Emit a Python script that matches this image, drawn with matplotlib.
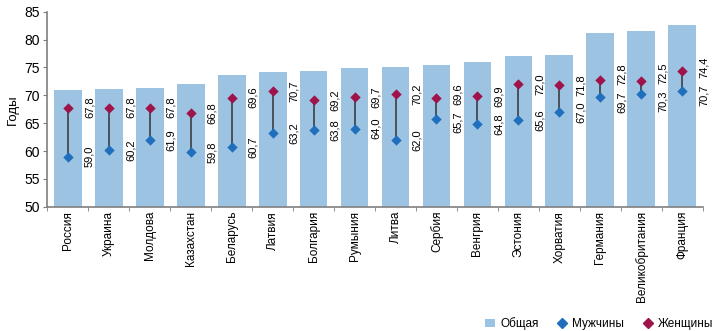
import numpy as np
import matplotlib
matplotlib.use("Agg")
import matplotlib.pyplot as plt
from matplotlib.lines import Line2D
from matplotlib.patches import Patch

countries = ["Россия", "Украина", "Молдова", "Казахстан", "Беларусь", "Латвия",
             "Болгария", "Румыния", "Литва", "Сербия", "Венгрия", "Эстония",
             "Хорватия", "Германия", "Великобритания", "Франция"]
total = [70.9, 71.1, 71.3, 72.0, 73.6, 74.1, 74.4, 74.9,
         75.1, 75.4, 75.9, 77.1, 77.2, 81.1, 81.5, 82.7]
men = [59.0, 60.2, 61.9, 59.8, 60.7, 63.2, 63.8, 64.0,
       62.0, 65.7, 64.8, 65.6, 67.0, 69.7, 70.3, 70.7]
women = [67.8, 67.8, 67.8, 66.8, 69.6, 70.7, 69.2, 69.7,
         70.2, 69.6, 69.9, 72.0, 71.8, 72.8, 72.5, 74.4]

bar_color = "#9dc3e3"
men_color = "#1f6fbd"
women_color = "#9e1349"
axis_color = "#7f7f7f"

plt.rcParams["font.family"] = ["Liberation Sans", "DejaVu Sans"]

fig = plt.figure(figsize=(7.15, 3.31), dpi=100)
ax = fig.add_axes([0.066, 0.3755, 0.917, 0.589])

x = np.arange(len(countries))
ax.bar(x, total, width=0.68, bottom=0, color=bar_color, zorder=1)
ax.vlines(x, men, women, color="#333333", lw=1.1, zorder=2)
ax.scatter(x, men, marker="D", s=28, color=men_color, zorder=3, linewidths=0)
ax.scatter(x, women, marker="D", s=28, color=women_color, zorder=3, linewidths=0)


def fmt(v):
    return f"{v:.1f}".replace(".", ",")


# value labels between bars, pushed apart when too close
min_sep = 5.0
for i in range(len(countries)):
    lo, hi = men[i], women[i]
    if hi - lo < min_sep:
        mid = (hi + lo) / 2
        lo, hi = mid - min_sep / 2, mid + min_sep / 2
    ax.text(i + 0.53, lo, fmt(men[i]), rotation=90, ha="center", va="center",
            fontsize=8, zorder=4)
    ax.text(i + 0.53, hi, fmt(women[i]), rotation=90, ha="center", va="center",
            fontsize=8, zorder=4)

ax.set_ylim(50, 85)
ax.set_xlim(-0.5, len(countries) - 0.5)
ax.set_yticks(range(50, 86, 5))
ax.tick_params(axis="y", labelsize=10, length=3, color=axis_color, pad=2)
ax.set_xticks(x)
ax.set_xticklabels(countries, rotation=90, fontsize=8.5)
ax.set_xticks(np.arange(-0.5, len(countries), 1), minor=True)
ax.tick_params(axis="x", which="major", length=0, pad=3)
ax.tick_params(axis="x", which="minor", length=3, color=axis_color)
ax.set_ylabel("Годы", fontsize=9.5, labelpad=4)

for side in ["top", "right"]:
    ax.spines[side].set_visible(False)
for side in ["left", "bottom"]:
    ax.spines[side].set_color(axis_color)
    ax.spines[side].set_linewidth(1.2)

handles = [
    Patch(facecolor=bar_color, edgecolor="none", label="Общая"),
    Line2D([], [], marker="D", ls="none", color=men_color, markersize=5.5, label="Мужчины"),
    Line2D([], [], marker="D", ls="none", color=women_color, markersize=5.5, label="Женщины"),
]
fig.legend(handles=handles, loc="lower right", bbox_to_anchor=(1.012, -0.03), ncol=3,
           frameon=False, fontsize=8.5, handlelength=0.8, handletextpad=0.45,
           columnspacing=1.6)

fig.savefig("out.png", dpi=100)
